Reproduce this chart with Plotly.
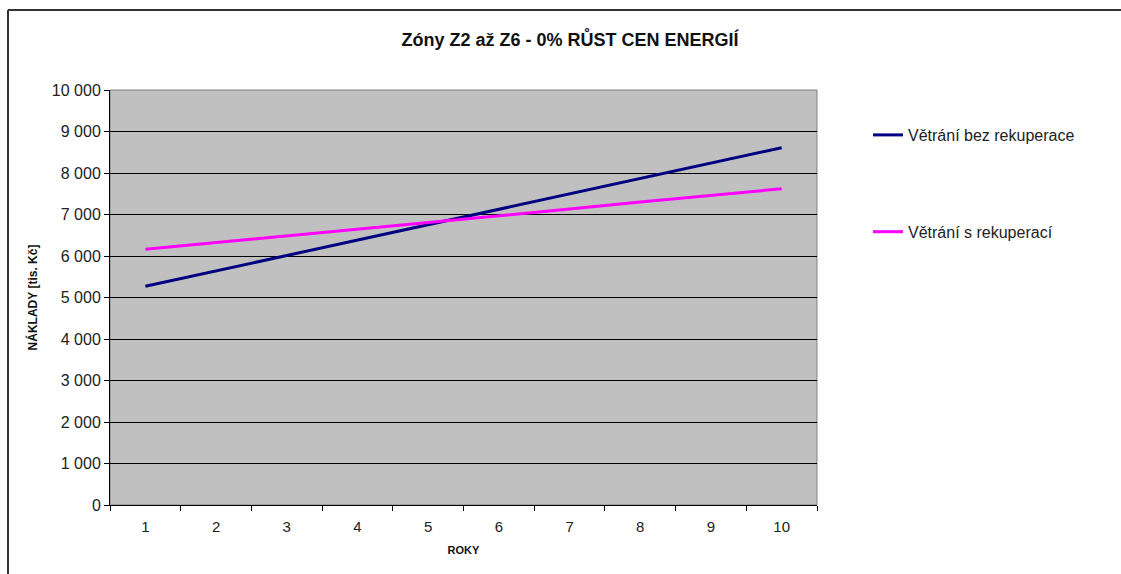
import plotly.graph_objects as go

years = [1, 2, 3, 4, 5, 6, 7, 8, 9, 10]
bez_rekuperace = [5270, 5640, 6010, 6380, 6750, 7130, 7500, 7870, 8240, 8610]
s_rekuperaci = [6160, 6320, 6480, 6650, 6810, 6970, 7130, 7300, 7460, 7620]
series_names = ["Větrání bez rekuperace", "Větrání s rekuperací"]
y_ticks = [0, 1000, 2000, 3000, 4000, 5000, 6000, 7000, 8000, 9000, 10000]

W, H = 1121, 574
L, R, T, B = 110, 817, 90, 505

def px_x(p):
    return (p - L) / (R - L)

def px_y(p):
    return (B - p) / (B - T)

cats = [str(y) for y in years]

fig = go.Figure()
fig.add_trace(go.Scatter(x=cats, y=bez_rekuperace, mode="lines",
                         name=series_names[0], legendgroup="a",
                         line=dict(color="#000080", width=3)))
fig.add_trace(go.Scatter(x=cats, y=s_rekuperaci, mode="lines",
                         name=series_names[1], legendgroup="b",
                         line=dict(color="#FF00FF", width=3)))

font_fam = "Liberation Sans, Arial, sans-serif"

fig.update_layout(
    width=W, height=H,
    margin=dict(l=L, r=W - R, t=T, b=H - B, autoexpand=False),
    paper_bgcolor="white",
    plot_bgcolor="#C0C0C0",
    separators=", ",
    font=dict(family=font_fam, size=15, color="#222222"),
    title=dict(text="<b>Zóny Z2 až Z6 - 0% RŮST CEN ENERGIÍ</b>",
               x=570 / W, xanchor="center", y=1 - 40 / H, yanchor="middle",
               font=dict(size=18, color="#111111", family=font_fam)),
    showlegend=True,
    legend=dict(x=px_x(868), xanchor="left", y=px_y(118), yanchor="top",
                tracegroupgap=73, bgcolor="rgba(0,0,0,0)",
                font=dict(size=16, color="#222222", family=font_fam)),
    xaxis=dict(type="category", range=[-0.5, 9.5], tickson="boundaries", ticks="outside", ticklen=5,
               tickcolor="black", showgrid=False, showline=True, linecolor="black",
               linewidth=1, zeroline=False, ticklabelstandoff=8,
               title=dict(text="<b>ROKY</b>", font=dict(size=11, color="#111111"), standoff=12),
               tickfont=dict(size=15)),
    yaxis=dict(range=[0, 10000], tickvals=y_ticks, tickformat=",d", ticks="outside",
               ticklen=5, tickcolor="black", showgrid=True, gridcolor="black", gridwidth=1,
               showline=True, linecolor="black", linewidth=1, zeroline=False,
               title=dict(text="<b>NÁKLADY [tis. Kč]</b>", font=dict(size=12, color="#111111"), standoff=11),
               tickfont=dict(size=16)),
    shapes=[
        dict(type="rect", xref="paper", yref="paper", x0=0, x1=1, y0=0, y1=1,
             line=dict(color="#808080", width=1), layer="below"),
        dict(type="line", xref="paper", yref="paper", x0=px_x(8), x1=px_x(W + 5),
             y0=px_y(10), y1=px_y(10), line=dict(color="#333333", width=2)),
        dict(type="line", xref="paper", yref="paper", x0=px_x(8), x1=px_x(8),
             y0=px_y(10), y1=px_y(H + 5), line=dict(color="#333333", width=2)),
    ],
)

fig.write_html("out.html", config={"displayModeBar": False},
               post_script="document.body.style.margin='0';document.body.style.overflow='hidden';")
